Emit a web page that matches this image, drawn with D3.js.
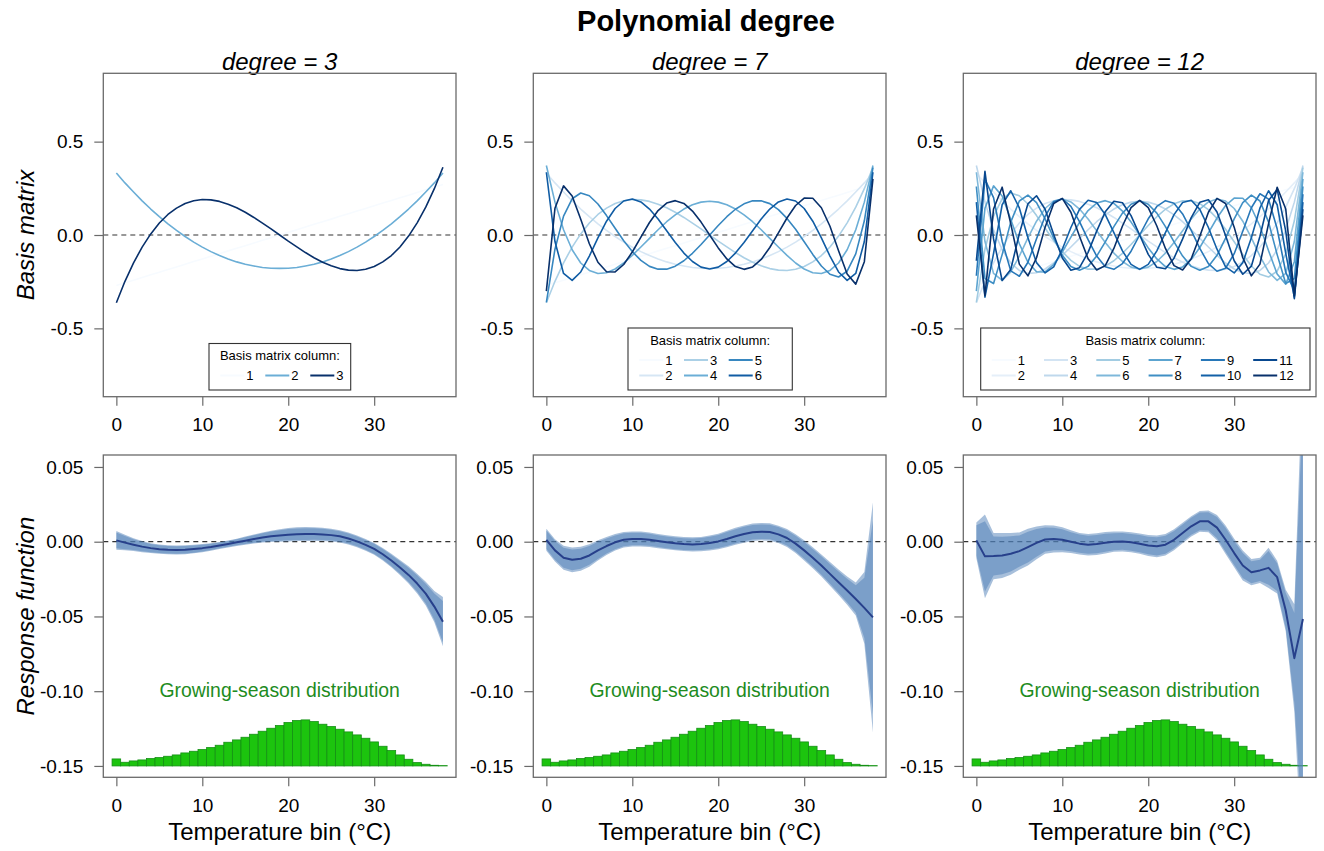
<!DOCTYPE html>
<html><head><meta charset="utf-8">
<script src="https://cdn.jsdelivr.net/npm/d3@7"></script>
<style>
html,body{margin:0;padding:0;background:#fff}
svg{display:block}
text{font-family:"Liberation Sans",Arial,Helvetica,sans-serif}
</style>
</head><body><div id="chart"></div>
<script>
// ---------------- DATA ----------------
const tempBins=[0,1,2,3,4,5,6,7,8,9,10,11,12,13,14,15,16,17,18,19,20,21,22,23,24,25,26,27,28,29,30,31,32,33,34,35,36,37,38];
const degrees=[3,7,12];
const xTickValues=[0,10,20,30];
const basisTicks=[-0.5,0,0.5];
const responseTicks=[-0.15,-0.10,-0.05,0,0.05];
const legendItemCounts=[3,6,12];

// orthonormal polynomial basis columns (columns are nested across degrees)
const basis1=[-.270,-.256,-.242,-.228,-.213,-.199,-.185,-.171,-.157,-.142,-.128,-.114,-.100,-.085,-.071,-.057,-.043,-.028,-.014,0,.014,.028,.043,.057,.071,.085,.100,.114,.128,.142,.157,.171,.185,.199,.213,.228,.242,.256,.270];
const basis2=[.332,.279,.230,.183,.139,.098,.060,.025,-.008,-.038,-.065,-.089,-.110,-.128,-.144,-.157,-.166,-.174,-.178,-.179,-.178,-.174,-.166,-.157,-.144,-.128,-.110,-.089,-.065,-.038,-.008,.025,.060,.098,.139,.183,.230,.279,.332];
const basis3=[-.363,-.248,-.149,-.065,.006,.064,.110,.144,.169,.183,.190,.188,.180,.165,.146,.122,.094,.064,.033,0,-.033,-.064,-.094,-.122,-.146,-.165,-.180,-.188,-.190,-.183,-.169,-.144,-.110,-.064,-.006,.065,.149,.248,.363];
const basis4=[.372,.176,.028,-.079,-.150,-.190,-.206,-.202,-.182,-.150,-.109,-.064,-.018,.028,.071,.108,.139,.162,.176,.181,.176,.162,.139,.108,.071,.028,-.018,-.064,-.109,-.150,-.182,-.202,-.206,-.190,-.150,-.079,.028,.176,.372];
const basis5=[-.361,-.076,.101,.194,.225,.210,.166,.104,.036,-.031,-.089,-.136,-.168,-.183,-.183,-.167,-.138,-.098,-.051,0,.051,.098,.138,.167,.183,.183,.168,.136,.089,.031,-.036,-.104,-.166,-.210,-.225,-.194,-.101,.076,.361];
const basis6=[.336,-.035,-.206,-.243,-.198,-.113,-.015,.074,.142,.182,.193,.177,.139,.086,.023,-.040,-.097,-.142,-.172,-.182,-.172,-.142,-.097,-.040,.023,.086,.139,.177,.193,.182,.142,.074,-.015,-.113,-.198,-.243,-.206,-.035,.336];
const basis7=[-.301,.143,.263,.209,.084,-.047,-.146,-.197,-.198,-.158,-.091,-.011,.067,.131,.171,.184,.169,.128,.069,0,-.069,-.128,-.169,-.184,-.171,-.131,-.067,.011,.091,.158,.198,.197,.146,.047,-.084,-.209,-.263,-.143,.301];
const basis8=[.260,-.233,-.260,-.105,.069,.182,.214,.173,.086,-.017,-.109,-.169,-.189,-.168,-.113,-.037,.045,.117,.165,.183,.165,.117,.045,-.037,-.113,-.168,-.189,-.169,-.109,-.017,.086,.173,.214,.182,.069,-.105,-.260,-.233,.260];
const basis9=[-.218,.298,.200,-.033,-.192,-.221,-.146,-.020,.100,.178,.194,.153,.072,-.025,-.113,-.170,-.184,-.153,-.087,0,.087,.153,.184,.170,.113,.025,-.072,-.153,-.194,-.178,-.100,.020,.146,.221,.192,.033,-.200,-.298,.218];
const basis10=[.176,-.333,-.099,.162,.237,.145,-.015,-.148,-.203,-.171,-.076,.040,.137,.186,.174,.109,.013,-.085,-.157,-.184,-.157,-.085,.013,.109,.174,.186,.137,.040,-.076,-.171,-.203,-.148,-.015,.145,.237,.162,-.099,-.333,.176];
const basis11=[-.138,.341,-.021,-.244,-.185,.007,.167,.210,.138,.003,-.123,-.189,-.175,-.093,.021,.124,.181,.173,.104,0,-.104,-.173,-.181,-.124,-.021,.093,.175,.189,.123,-.003,-.138,-.210,-.167,-.007,.185,.244,.021,-.341,.138];
const basis12=[.105,-.325,.139,.256,.061,-.156,-.219,-.122,.042,.169,.196,.122,-.007,-.127,-.187,-.164,-.072,.048,.147,.186,.147,.048,-.072,-.164,-.187,-.127,-.007,.122,.196,.169,.042,-.122,-.219,-.156,.061,.256,.139,-.325,.105];
const basisColumns=[basis1,basis2,basis3,basis4,basis5,basis6,basis7,basis8,basis9,basis10,basis11,basis12];

// response functions (fit) and 95% CI half-widths
const fit3=[0.0009,-0.0006,-0.0020,-0.0033,-0.0043,-0.0050,-0.0054,-0.0056,-0.0054,-0.0049,-0.0043,-0.0035,-0.0025,-0.0015,-0.0004,0.0007,0.0018,0.0028,0.0036,0.0042,0.0047,0.0050,0.0051,0.0051,0.0049,0.0044,0.0036,0.0021,0.0002,-0.0021,-0.0048,-0.0084,-0.0126,-0.0172,-0.0222,-0.0280,-0.0347,-0.0434,-0.0535];
const ci3=[.0063,.0052,.0043,.0037,.0033,.0031,.0030,.0030,.0030,.0029,.0027,.0025,.0023,.0023,.0024,.0027,.0030,.0034,.0038,.0042,.0045,.0046,.0047,.0046,.0045,.0043,.0041,.0040,.0039,.0039,.0040,.0042,.0045,.0050,.0057,.0066,.0079,.0104,.0165];
const fit7=[0.0013,-0.0058,-0.0107,-0.0121,-0.0114,-0.0092,-0.0058,-0.0029,-0.0004,0.0013,0.0018,0.0018,0.0013,0.0004,-0.0004,-0.0011,-0.0016,-0.0018,-0.0016,-0.0009,0.0002,0.0018,0.0036,0.0051,0.0063,0.0067,0.0065,0.0049,0.0025,-0.0013,-0.0058,-0.0107,-0.0159,-0.0215,-0.0271,-0.0327,-0.0383,-0.0443,-0.0506];
const ci7=[.0074,.0075,.0080,.0083,.0080,.0075,.0068,.0060,.0055,.0052,.0050,.0050,.0048,.0047,.0047,.0047,.0047,.0047,.0048,.0050,.0052,.0055,.0057,.0058,.0058,.0058,.0058,.0058,.0060,.0063,.0067,.0070,.0074,.0079,.0085,.0095,.0110,.0240,.0770];
const fit12=[0.0009,-0.0098,-0.0096,-0.0092,-0.0081,-0.0063,-0.0036,-0.0008,0.0015,0.0018,0.0013,0.0000,-0.0013,-0.0020,-0.0016,-0.0007,0.0000,0.0002,-0.0004,-0.0013,-0.0025,-0.0031,-0.0020,0.0013,0.0058,0.0103,0.0136,0.0136,0.0094,0.0013,-0.0076,-0.0159,-0.0204,-0.0192,-0.0175,-0.0237,-0.0461,-0.0779,-0.0517];
const ci12=[.0120,.0280,.0155,.0150,.0140,.0125,.0123,.0110,.0095,.0090,.0083,.0076,.0072,.0072,.0073,.0072,.0068,.0067,.0067,.0068,.0070,.0073,.0072,.0070,.0068,.0068,.0070,.0072,.0085,.0095,.0095,.0100,.0088,.0085,.0135,.0110,.0140,.0360,.1700];
const fits=[fit3,fit7,fit12];
const cis=[ci3,ci7,ci12];
const innerToOuter=1.645/1.96;

// growing-season distribution of temperature exposure (relative)
const seasonDist=[21,11,15,18,22,25,29,33,39,44,49,55,62,71,78,86,95,104,113,121,130,136,138,133,125,118,110,102,93,83,72,59,46,33,20,10,5,2,1];

const blues9=["#F7FBFF","#DEEBF7","#C6DBEF","#9ECAE1","#6BAED6","#4292C6","#2171B5","#08519C","#08306B"];

// ---------------- LAYOUT ----------------
const W=1324,H=851;
const panelW=352.7;
const panelLefts=[103.3,533.3,963.3];
const topRow={top:73.3,bottom:396.7};
const botRow={top:455,bottom:777.3};
const font='"Liberation Sans",Arial,Helvetica,sans-serif';
const frameColor="#6a6a6a";

const svg=d3.select("#chart").append("svg").attr("width",W).attr("height",H).attr("viewBox",`0 0 ${W} ${H}`);
svg.append("rect").attr("width",W).attr("height",H).attr("fill","#fff");

const x=d3.scaleLinear().domain([-1.52,39.52]).range([0,panelW]);
const yTop=d3.scaleLinear().domain([-0.866,0.866]).range([topRow.bottom,topRow.top]);
const yBot=d3.scaleLinear().domain([-0.1576,0.058]).range([botRow.bottom,botRow.top]);

const ramp=n=>{const f=d3.piecewise(d3.interpolateRgb,blues9);return d3.range(n).map(i=>f(n===1?0:i/(n-1)));};

// title
svg.append("text").attr("x",706).attr("y",31).attr("text-anchor","middle")
  .attr("font-size",29).attr("font-weight","bold").text("Polynomial degree");

// y-axis titles
svg.append("text").attr("transform",`translate(34,${(topRow.top+topRow.bottom)/2}) rotate(-90)`)
  .attr("text-anchor","middle").attr("font-size",24).attr("font-style","italic").text("Basis matrix");
svg.append("text").attr("transform",`translate(34,${(botRow.top+botRow.bottom)/2}) rotate(-90)`)
  .attr("text-anchor","middle").attr("font-size",24).attr("font-style","italic").text("Response function");

function styleAxis(g){
  g.select(".domain").remove();
  g.selectAll(".tick line").attr("stroke",frameColor).attr("stroke-width",1.2);
  g.selectAll(".tick text").attr("fill","#000").attr("font-size",19).attr("font-family",font);
}

const legendLayout=[
  {dx:105.7,w:141.7,first:11.3,colW:45,rows:1},
  {dx:94.7,w:164.3,first:11.3,colW:44.7,rows:2},
  {dx:17.4,w:329.3,first:11,colW:52.3,rows:2}
];

degrees.forEach((deg,pi)=>{
  const L=panelLefts[pi];
  const g=svg.append("g").attr("transform",`translate(${L},0)`);
  const cx=panelW/2;
  const cols=ramp(deg);

  // panel title
  g.append("text").attr("x",cx).attr("y",70).attr("text-anchor","middle")
    .attr("font-size",24).attr("font-style","italic").text(`degree = ${deg}`);

  // ---- top: basis matrix ----
  const clipT=`clipT${pi}`;
  g.append("clipPath").attr("id",clipT).append("rect")
    .attr("x",0).attr("y",topRow.top).attr("width",panelW).attr("height",topRow.bottom-topRow.top);
  const gt=g.append("g").attr("clip-path",`url(#${clipT})`);
  gt.append("line").attr("x1",0).attr("x2",panelW).attr("y1",yTop(0)).attr("y2",yTop(0))
    .attr("stroke","#333").attr("stroke-width",1.2).attr("stroke-dasharray","5,4");
  const line=d3.line().x((d,i)=>x(tempBins[i])).y(d=>yTop(d));
  basisColumns.slice(0,deg).forEach((col,k)=>{
    gt.append("path").attr("d",line(col)).attr("fill","none")
      .attr("stroke",cols[k]).attr("stroke-width",1.6).attr("stroke-linejoin","round");
  });
  g.append("rect").attr("x",0).attr("y",topRow.top).attr("width",panelW).attr("height",topRow.bottom-topRow.top)
    .attr("fill","none").attr("stroke",frameColor).attr("stroke-width",1.3);
  g.append("g").attr("transform",`translate(0,${topRow.bottom})`)
    .call(d3.axisBottom(x).tickValues(xTickValues).tickSize(9).tickPadding(12).tickFormat(d=>String(d))).call(styleAxis);
  g.append("g").call(d3.axisLeft(yTop).tickValues(basisTicks).tickSize(9).tickPadding(11).tickFormat(d=>d.toFixed(1))).call(styleAxis);

  // legend
  const lg=legendLayout[pi];
  const nItems=legendItemCounts[pi];
  const boxBottom=390;
  const lastBase=380, rowGap=15.5;
  const firstBase=lastBase-(lg.rows-1)*rowGap;
  const titleBase=firstBase-20;
  const boxTop=titleBase-16.5;
  const leg=g.append("g");
  leg.append("rect").attr("x",lg.dx).attr("y",boxTop).attr("width",lg.w).attr("height",boxBottom-boxTop)
    .attr("fill","#fff").attr("stroke","#333").attr("stroke-width",1.1);
  leg.append("text").attr("x",lg.dx+lg.w/2).attr("y",titleBase).attr("text-anchor","middle")
    .attr("font-size",13).text("Basis matrix column:");
  for(let k=0;k<nItems;k++){
    const c=Math.floor(k/lg.rows), r=k%lg.rows;
    const x0=lg.dx+lg.first+c*lg.colW;
    const base=firstBase+r*rowGap;
    leg.append("line").attr("x1",x0).attr("x2",x0+24).attr("y1",base-4.5).attr("y2",base-4.5)
      .attr("stroke",cols[k]).attr("stroke-width",2);
    leg.append("text").attr("x",x0+26).attr("y",base).attr("font-size",13).text(String(k+1));
  }

  // ---- bottom: response function ----
  const clipB=`clipB${pi}`;
  g.append("clipPath").attr("id",clipB).append("rect")
    .attr("x",0).attr("y",botRow.top).attr("width",panelW).attr("height",botRow.bottom-botRow.top);
  const gb=g.append("g").attr("clip-path",`url(#${clipB})`);

  // histogram
  const histMax=d3.max(seasonDist);
  const hScale=d3.scaleLinear().domain([0,histMax]).range([0,0.0308]);
  gb.selectAll("rect.hist").data(seasonDist).join("rect").attr("class","hist")
    .attr("x",(d,i)=>x(tempBins[i]-0.5)).attr("width",x(1)-x(0))
    .attr("y",d=>yBot(-0.15+hScale(d))).attr("height",d=>yBot(-0.15)-yBot(-0.15+hScale(d)))
    .attr("fill","#1cc40e").attr("stroke","#149014").attr("stroke-width",0.8);
  gb.append("text").attr("x",x(19)).attr("y",697).attr("text-anchor","middle")
    .attr("font-size",19.4).attr("fill","#1e8c1e").text("Growing-season distribution");

  // zero line
  gb.append("line").attr("x1",0).attr("x2",panelW).attr("y1",yBot(0)).attr("y2",yBot(0))
    .attr("stroke","#333").attr("stroke-width",1.2).attr("stroke-dasharray","5,4");

  const fit=fits[pi], ci=cis[pi];
  const outer=d3.area().x((d,i)=>x(tempBins[i])).y0((d,i)=>yBot(fit[i]-ci[i])).y1((d,i)=>yBot(fit[i]+ci[i]));
  const inner=d3.area().x((d,i)=>x(tempBins[i])).y0((d,i)=>yBot(fit[i]-ci[i]*innerToOuter)).y1((d,i)=>yBot(fit[i]+ci[i]*innerToOuter));
  gb.append("path").attr("d",outer(fit)).attr("fill","#4f7fb8").attr("fill-opacity",0.5);
  gb.append("path").attr("d",inner(fit)).attr("fill","#4f7fb8").attr("fill-opacity",0.5);
  const fl=d3.line().x((d,i)=>x(tempBins[i])).y(d=>yBot(d));
  gb.append("path").attr("d",fl(fit)).attr("fill","none").attr("stroke","#27408b").attr("stroke-width",2).attr("stroke-linejoin","round");

  g.append("rect").attr("x",0).attr("y",botRow.top).attr("width",panelW).attr("height",botRow.bottom-botRow.top)
    .attr("fill","none").attr("stroke",frameColor).attr("stroke-width",1.3);
  g.append("g").attr("transform",`translate(0,${botRow.bottom})`)
    .call(d3.axisBottom(x).tickValues(xTickValues).tickSize(9).tickPadding(12).tickFormat(d=>String(d))).call(styleAxis);
  g.append("g").call(d3.axisLeft(yBot).tickValues(responseTicks).tickSize(9).tickPadding(11).tickFormat(d=>d.toFixed(2))).call(styleAxis);

  // x-axis title
  g.append("text").attr("x",cx).attr("y",840).attr("text-anchor","middle").attr("font-size",24)
    .text("Temperature bin (°C)");
});
</script></body></html>
